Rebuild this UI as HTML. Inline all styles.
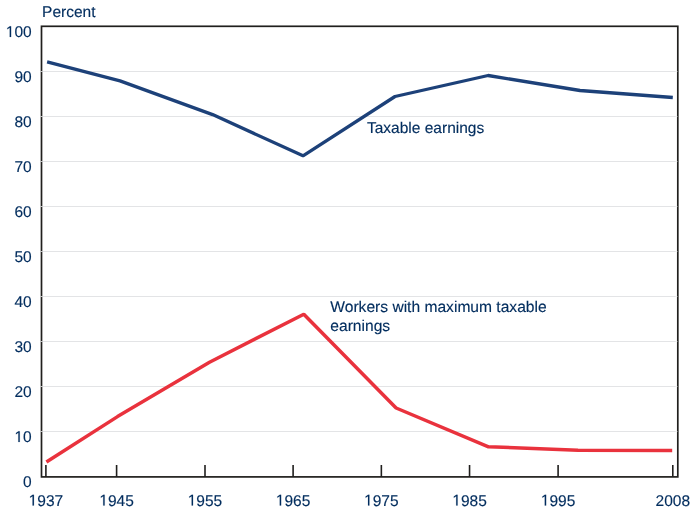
<!DOCTYPE html>
<html>
<head>
<meta charset="utf-8">
<style>
html,body{margin:0;padding:0;background:#fff;width:700px;height:512px;overflow:hidden;}
svg{display:block;will-change:transform;}
text{font-family:"Liberation Sans",sans-serif;font-size:15.5px;fill:#022d5e;text-rendering:geometricPrecision;stroke:#022d5e;stroke-width:0.15px;}
.one{fill:#022d5e;stroke:#022d5e;stroke-width:19.82px;}
</style>
</head>
<body>
<svg width="700" height="512" viewBox="0 0 700 512">
<rect x="0" y="0" width="700" height="512" fill="#fff"/>
<rect x="41.5" y="26.3" width="636.3" height="450.6" fill="none" stroke="#201f1d" stroke-width="1.7"/>
<g stroke="#e3e4e6" stroke-width="1"><line x1="42.4" y1="431.5" x2="675.8" y2="431.5"/><line x1="42.4" y1="386.5" x2="675.8" y2="386.5"/><line x1="42.4" y1="341.5" x2="675.8" y2="341.5"/><line x1="42.4" y1="296.5" x2="675.8" y2="296.5"/><line x1="42.4" y1="251.5" x2="675.8" y2="251.5"/><line x1="42.4" y1="206.5" x2="675.8" y2="206.5"/><line x1="42.4" y1="161.5" x2="675.8" y2="161.5"/><line x1="42.4" y1="116.5" x2="675.8" y2="116.5"/><line x1="42.4" y1="71.5" x2="675.8" y2="71.5"/></g>
<g stroke="#c4c4c4" stroke-width="1"><line x1="40.0" y1="431.5" x2="42.4" y2="431.5"/><line x1="40.0" y1="386.5" x2="42.4" y2="386.5"/><line x1="40.0" y1="341.5" x2="42.4" y2="341.5"/><line x1="40.0" y1="296.5" x2="42.4" y2="296.5"/><line x1="40.0" y1="251.5" x2="42.4" y2="251.5"/><line x1="40.0" y1="206.5" x2="42.4" y2="206.5"/><line x1="40.0" y1="161.5" x2="42.4" y2="161.5"/><line x1="40.0" y1="116.5" x2="42.4" y2="116.5"/><line x1="40.0" y1="71.5" x2="42.4" y2="71.5"/></g>
<g stroke="#6e6e6e" stroke-width="1"><line x1="677.1" y1="431.5" x2="678.1" y2="431.5"/><line x1="677.1" y1="386.5" x2="678.1" y2="386.5"/><line x1="677.1" y1="341.5" x2="678.1" y2="341.5"/><line x1="677.1" y1="296.5" x2="678.1" y2="296.5"/><line x1="677.1" y1="251.5" x2="678.1" y2="251.5"/><line x1="677.1" y1="206.5" x2="678.1" y2="206.5"/><line x1="677.1" y1="161.5" x2="678.1" y2="161.5"/><line x1="677.1" y1="116.5" x2="678.1" y2="116.5"/><line x1="677.1" y1="71.5" x2="678.1" y2="71.5"/></g>
<g stroke="#201f1d" stroke-width="1.6"><line x1="45.9" y1="465" x2="45.9" y2="477"/><line x1="116.6" y1="465" x2="116.6" y2="477"/><line x1="205.0" y1="465" x2="205.0" y2="477"/><line x1="293.1" y1="465" x2="293.1" y2="477"/><line x1="381.35" y1="465" x2="381.35" y2="477"/><line x1="469.55" y1="465" x2="469.55" y2="477"/><line x1="558.1" y1="465" x2="558.1" y2="477"/><line x1="672.8" y1="465" x2="672.8" y2="477"/></g>
<polyline fill="none" stroke="#1d4179" stroke-width="3.3" stroke-linecap="butt" stroke-linejoin="bevel" points="47.1,61.9 120,80.9 212.6,114.6 303.0,155.8 395.0,96.5 488.1,75.5 580,90.5 672.8,97.5"/>
<polyline fill="none" stroke="#e9323d" stroke-width="3.5" stroke-linecap="butt" stroke-linejoin="bevel" points="46.4,462.0 117.5,416.6 209.5,362.2 303.8,314.2 396.1,408.0 488.5,446.8 578,450.2 672.2,450.4"/>
<text x="5.84" y="37.0">&#8199;00</text><path class="one" transform="translate(5.84,37.0) scale(0.007568,-0.007568)" d="M515,0L515,1237L197,1010L197,1180L530,1409L696,1409L696,0Z"/><text x="14.46" y="82.0">90</text><text x="14.46" y="127.0">80</text><text x="14.46" y="172.0">70</text><text x="14.46" y="217.0">60</text><text x="14.46" y="262.0">50</text><text x="14.46" y="307.0">40</text><text x="14.46" y="352.0">30</text><text x="14.46" y="397.0">20</text><text x="14.46" y="442.0">&#8199;0</text><path class="one" transform="translate(14.46,442.0) scale(0.007568,-0.007568)" d="M515,0L515,1237L197,1010L197,1180L530,1409L696,1409L696,0Z"/><text x="23.08" y="487.0">0</text>
<text x="28.66" y="505.5">&#8199;937</text><path class="one" transform="translate(28.66,505.5) scale(0.007568,-0.007568)" d="M515,0L515,1237L197,1010L197,1180L530,1409L696,1409L696,0Z"/><text x="99.36" y="505.5">&#8199;945</text><path class="one" transform="translate(99.36,505.5) scale(0.007568,-0.007568)" d="M515,0L515,1237L197,1010L197,1180L530,1409L696,1409L696,0Z"/><text x="187.76" y="505.5">&#8199;955</text><path class="one" transform="translate(187.76,505.5) scale(0.007568,-0.007568)" d="M515,0L515,1237L197,1010L197,1180L530,1409L696,1409L696,0Z"/><text x="275.86" y="505.5">&#8199;965</text><path class="one" transform="translate(275.86,505.5) scale(0.007568,-0.007568)" d="M515,0L515,1237L197,1010L197,1180L530,1409L696,1409L696,0Z"/><text x="364.11" y="505.5">&#8199;975</text><path class="one" transform="translate(364.11,505.5) scale(0.007568,-0.007568)" d="M515,0L515,1237L197,1010L197,1180L530,1409L696,1409L696,0Z"/><text x="452.31" y="505.5">&#8199;985</text><path class="one" transform="translate(452.31,505.5) scale(0.007568,-0.007568)" d="M515,0L515,1237L197,1010L197,1180L530,1409L696,1409L696,0Z"/><text x="540.86" y="505.5">&#8199;995</text><path class="one" transform="translate(540.86,505.5) scale(0.007568,-0.007568)" d="M515,0L515,1237L197,1010L197,1180L530,1409L696,1409L696,0Z"/><text x="655.56" y="505.5">2008</text>
<text x="42.1" y="17.1">Percent</text>
<text x="367" y="133.1">Taxable earnings</text>
<text x="330.3" y="311.9" style="font-size:15.6px">Workers with maximum taxable</text>
<text x="330.3" y="330.6" style="font-size:15.6px">earnings</text>
</svg>
</body>
</html>
